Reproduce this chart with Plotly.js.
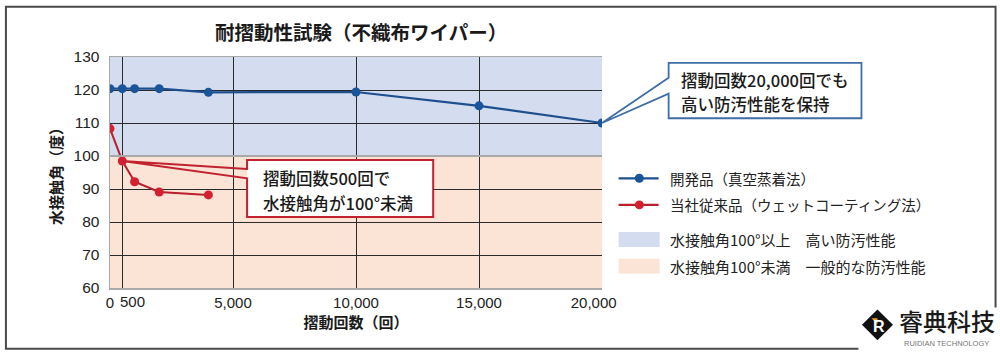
<!DOCTYPE html>
<html>
<head>
<meta charset="utf-8">
<script src="https://cdn.plot.ly/plotly-3.0.1.min.js"></script>
<style>html,body{margin:0;padding:0;background:#fff;}#chart{width:1000px;height:355px;}</style>
</head>
<body>
<div id="chart"></div>
<script>
// ---- data ----
const cycles = [0, 500, 1000, 2000, 4000, 10000, 15000, 20000];
const devAngle = [120.4, 120.4, 120.4, 120.4, 119.3, 119.4, 115.2, 110.0];
const oldCycles = [0, 500, 1000, 2000, 4000];
const oldAngle = [108.3, 98.5, 92.2, 89.1, 88.2];
const xTickVals = [0, 500, 5000, 10000, 15000, 20000];
const xTickText = ["0", "", "5,000", "10,000", "15,000", "20,000\u00a0\u00a0\u00a0\u00a0"];
const xTick500 = "500";
const yTickVals = [60, 70, 80, 90, 100, 110, 120, 130];
const highBand = [100, 130];
const lowBand = [60, 100];
const seriesNames = ["開発品（真空蒸着法）", "当社従来品（ウェットコーティング法）"];
const bandNames = ["水接触角100°以上　高い防汚性能", "水接触角100°未満　一般的な防汚性能"];
const titleText = "耐摺動性試験（不織布ワイパー）";
const xTitle = "摺動回数（回）";
const yTitle = "水接触角（度）";
const calloutRed = ["摺動回数500回で", "水接触角が100°未満"];
const calloutBlue = ["摺動回数20,000回でも", "高い防汚性能を保持"];

// ---- geometry helpers ----
const L = 110, R = 601.7, T = 56.5, B = 288.5;
const xRange = [0, 20000], yRange = [60, 130];
const px = x => (x - L) / (R - L);
const py = y => (B - y) / (B - T);
const dx = v => (v - xRange[0]) / (xRange[1] - xRange[0]);
const dy = v => (v - yRange[0]) / (yRange[1] - yRange[0]);

const CJK = "Noto Sans CJK JP, sans-serif";
const NUM = "Liberation Sans, Arial, Noto Sans CJK JP, sans-serif";
const blueLine = "#1d4f8e", blueMark = "#1a5499";
const redLine = "#b8202d", redMark = "#d31f2f";
const blueBg = "#d4ddef", peachBg = "#fbe3d6";

const traces = [
  {x: cycles, y: devAngle, type: "scatter", mode: "lines+markers", name: seriesNames[0],
   line: {color: blueLine, width: 2.2}, marker: {color: blueMark, size: 9}, showlegend: false, hoverinfo: "skip"},
  {x: oldCycles, y: oldAngle, type: "scatter", mode: "lines+markers", name: seriesNames[1],
   line: {color: redLine, width: 2}, marker: {color: redMark, size: 9}, showlegend: false, hoverinfo: "skip"}
];

const shapes = [];
const annotations = [];

// tick label for 500, offset to the right as in the original
annotations.push({xref: "x", yref: "paper", x: xTickVals[1], y: 0, xanchor: "left", yanchor: "middle", xshift: -3, yshift: -13.5,
  text: xTick500, showarrow: false, borderpad: 0, font: {family: NUM, size: 15, color: "#222"}});

// background bands
shapes.push({type: "rect", xref: "paper", yref: "y", x0: 0, x1: 1, y0: highBand[0], y1: highBand[1], fillcolor: blueBg, line: {width: 0}, layer: "below"});
shapes.push({type: "rect", xref: "paper", yref: "y", x0: 0, x1: 1, y0: lowBand[0], y1: lowBand[1], fillcolor: peachBg, line: {width: 0}, layer: "below"});
// threshold line
shapes.push({type: "line", xref: "paper", yref: "y", x0: 0, x1: 1, y0: highBand[0], y1: highBand[0], line: {color: "#a9a9a9", width: 1.8}, layer: "above"});

// red callout
const rAx = dx(oldCycles[1]), rAy = dy(oldAngle[1]);
shapes.push({type: "rect", xref: "paper", yref: "paper", x0: px(247), x1: px(433), y0: py(217.3), y1: py(160), fillcolor: "#ffffff", line: {width: 0}});
shapes.push({type: "path", xref: "paper", yref: "paper",
  path: `M${px(247)},${py(169)} L${rAx},${rAy} L${px(247)},${py(178.3)} L${px(247)},${py(217.3)} L${px(433)},${py(217.3)} L${px(433)},${py(160)} L${px(247)},${py(160)} Z`,
  fillcolor: "rgba(0,0,0,0)", line: {color: "#c0232f", width: 2}});
annotations.push({xref: "paper", yref: "paper", x: px(261), y: py(178.3), xanchor: "left", yanchor: "middle", text: calloutRed[0], showarrow: false, font: {family: CJK, size: 16.5, color: "#1a1a1a", weight: 500}});
annotations.push({xref: "paper", yref: "paper", x: px(261), y: py(203.3), xanchor: "left", yanchor: "middle", text: calloutRed[1], showarrow: false, font: {family: CJK, size: 16.5, color: "#1a1a1a", weight: 500}});

// blue callout
const bAx = dx(cycles[cycles.length - 1]), bAy = dy(devAngle[devAngle.length - 1]);
shapes.push({type: "rect", xref: "paper", yref: "paper", x0: px(668.3), x1: px(861), y0: py(118), y1: py(62.3), fillcolor: "#ffffff", line: {width: 0}});
shapes.push({type: "path", xref: "paper", yref: "paper",
  path: `M${px(668.3)},${py(77.3)} L${bAx},${bAy} L${px(668.3)},${py(93.3)} L${px(668.3)},${py(118)} L${px(861)},${py(118)} L${px(861)},${py(62.3)} L${px(668.3)},${py(62.3)} Z`,
  fillcolor: "rgba(0,0,0,0)", line: {color: "#3f6ea6", width: 1.8}});
annotations.push({xref: "paper", yref: "paper", x: px(678.5), y: py(79.3), xanchor: "left", yanchor: "middle", text: calloutBlue[0], showarrow: false, font: {family: CJK, size: 16.5, color: "#1a1a1a", weight: 500}});
annotations.push({xref: "paper", yref: "paper", x: px(678.5), y: py(103.3), xanchor: "left", yanchor: "middle", text: calloutBlue[1], showarrow: false, font: {family: CJK, size: 16.5, color: "#1a1a1a", weight: 500}});

// manual legend
const legY = [178.3, 205];
const legCol = [[blueLine, blueMark], [redLine, redMark]];
for (let i = 0; i < 2; i++) {
  shapes.push({type: "line", xref: "paper", yref: "paper", x0: px(618.3), x1: px(658.3), y0: py(legY[i]), y1: py(legY[i]), line: {color: legCol[i][0], width: 2.2}});
  shapes.push({type: "circle", xref: "paper", yref: "paper", x0: px(634.5), x1: px(643.5), y0: py(legY[i] + 4.5), y1: py(legY[i] - 4.5), fillcolor: legCol[i][1], line: {width: 0}});
  annotations.push({xref: "paper", yref: "paper", x: px(667.5), y: py(legY[i]), xanchor: "left", yanchor: "middle", text: seriesNames[i], showarrow: false, font: {family: CJK, size: 14.5, color: "#222"}});
}
const boxY = [[232.3, 247.3], [259, 274]];
const boxTextY = [240, 266.7];
const boxCol = [blueBg, peachBg];
for (let i = 0; i < 2; i++) {
  shapes.push({type: "rect", xref: "paper", yref: "paper", x0: px(618.3), x1: px(659.3), y0: py(boxY[i][1]), y1: py(boxY[i][0]), fillcolor: boxCol[i], line: {width: 0}});
  annotations.push({xref: "paper", yref: "paper", x: px(667.5), y: py(boxTextY[i]), xanchor: "left", yanchor: "middle", text: bandNames[i], showarrow: false, font: {family: CJK, size: 15, color: "#222"}});
}

// outer frame
shapes.push({type: "rect", xref: "paper", yref: "paper", x0: px(6), x1: px(995), y0: py(349.5), y1: py(6), fillcolor: "rgba(0,0,0,0)", line: {color: "#4a4a4a", width: 2}});

// logo
shapes.push({type: "rect", xref: "paper", yref: "paper", x0: px(858), x1: px(999), y0: py(354), y1: py(308), fillcolor: "#ffffff", line: {width: 0}});
shapes.push({type: "path", xref: "paper", yref: "paper",
  path: `M${px(877)},${py(310)} L${px(892.5)},${py(325.5)} L${px(877)},${py(341)} L${px(861.5)},${py(325.5)} Z`,
  fillcolor: "#111111", line: {width: 0}});
shapes.push({type: "path", xref: "paper", yref: "paper",
  path: `M${px(871)},${py(319)} L${px(877)},${py(319)} L${px(877)},${py(325)} Z`,
  fillcolor: "#f0a030", line: {width: 0}});
annotations.push({xref: "paper", yref: "paper", x: px(878.5), y: py(327), xanchor: "center", yanchor: "middle", text: "<b>R</b>", showarrow: false, font: {family: NUM, size: 16, color: "#ffffff"}});
annotations.push({xref: "paper", yref: "paper", x: px(946), y: py(321), xanchor: "center", yanchor: "middle", text: "睿典科技", showarrow: false, font: {family: "Noto Sans CJK SC, sans-serif", size: 24, color: "#1a1a1a", weight: 500}});
annotations.push({xref: "paper", yref: "paper", x: px(946), y: py(344.5), xanchor: "center", yanchor: "middle", text: "RUIDIAN TECHNOLOGY", showarrow: false, font: {family: NUM, size: 7.5, color: "#777"}});

const layout = {
  width: 1000, height: 355,
  margin: {l: L, r: 1000 - R, t: T, b: 355 - B, pad: 0},
  paper_bgcolor: "#ffffff", plot_bgcolor: "#ffffff",
  showlegend: false,
  title: {text: titleText, x: (361 - L) / (R - L), xref: "paper", xanchor: "center", y: 1 - 33 / 355, yref: "container", yanchor: "middle",
          font: {family: CJK, size: 19.5, weight: "bold", color: "#1a1a1a"}},
  xaxis: {range: xRange, tickvals: xTickVals, ticktext: xTickText, tickangle: 0, ticks: "", showgrid: true, gridcolor: "#2a2a2a", gridwidth: 1,
          zeroline: false, showline: true, linecolor: "#a9a9a9", linewidth: 1.5, mirror: true, layer: "above traces",
          tickfont: {family: NUM, size: 15, color: "#222"}, ticklabelstandoff: 0, automargin: false, fixedrange: true,
          title: {text: xTitle, font: {family: CJK, size: 15, weight: "bold", color: "#1a1a1a"}, standoff: 0}},
  yaxis: {range: yRange, tickvals: yTickVals, ticks: "", showgrid: true, gridcolor: "#2a2a2a", gridwidth: 1,
          zeroline: false, showline: true, linecolor: "#a9a9a9", linewidth: 1.5, layer: "above traces",
          tickfont: {family: NUM, size: 15.5, color: "#222"}, ticklabelstandoff: 6, automargin: false, fixedrange: true,
          title: {text: yTitle, font: {family: CJK, size: 15, weight: "bold", color: "#1a1a1a"}, standoff: 7}},
  shapes: shapes,
  annotations: annotations
};

Plotly.newPlot("chart", traces, layout, {displayModeBar: false, staticPlot: true});
</script>
</body>
</html>
